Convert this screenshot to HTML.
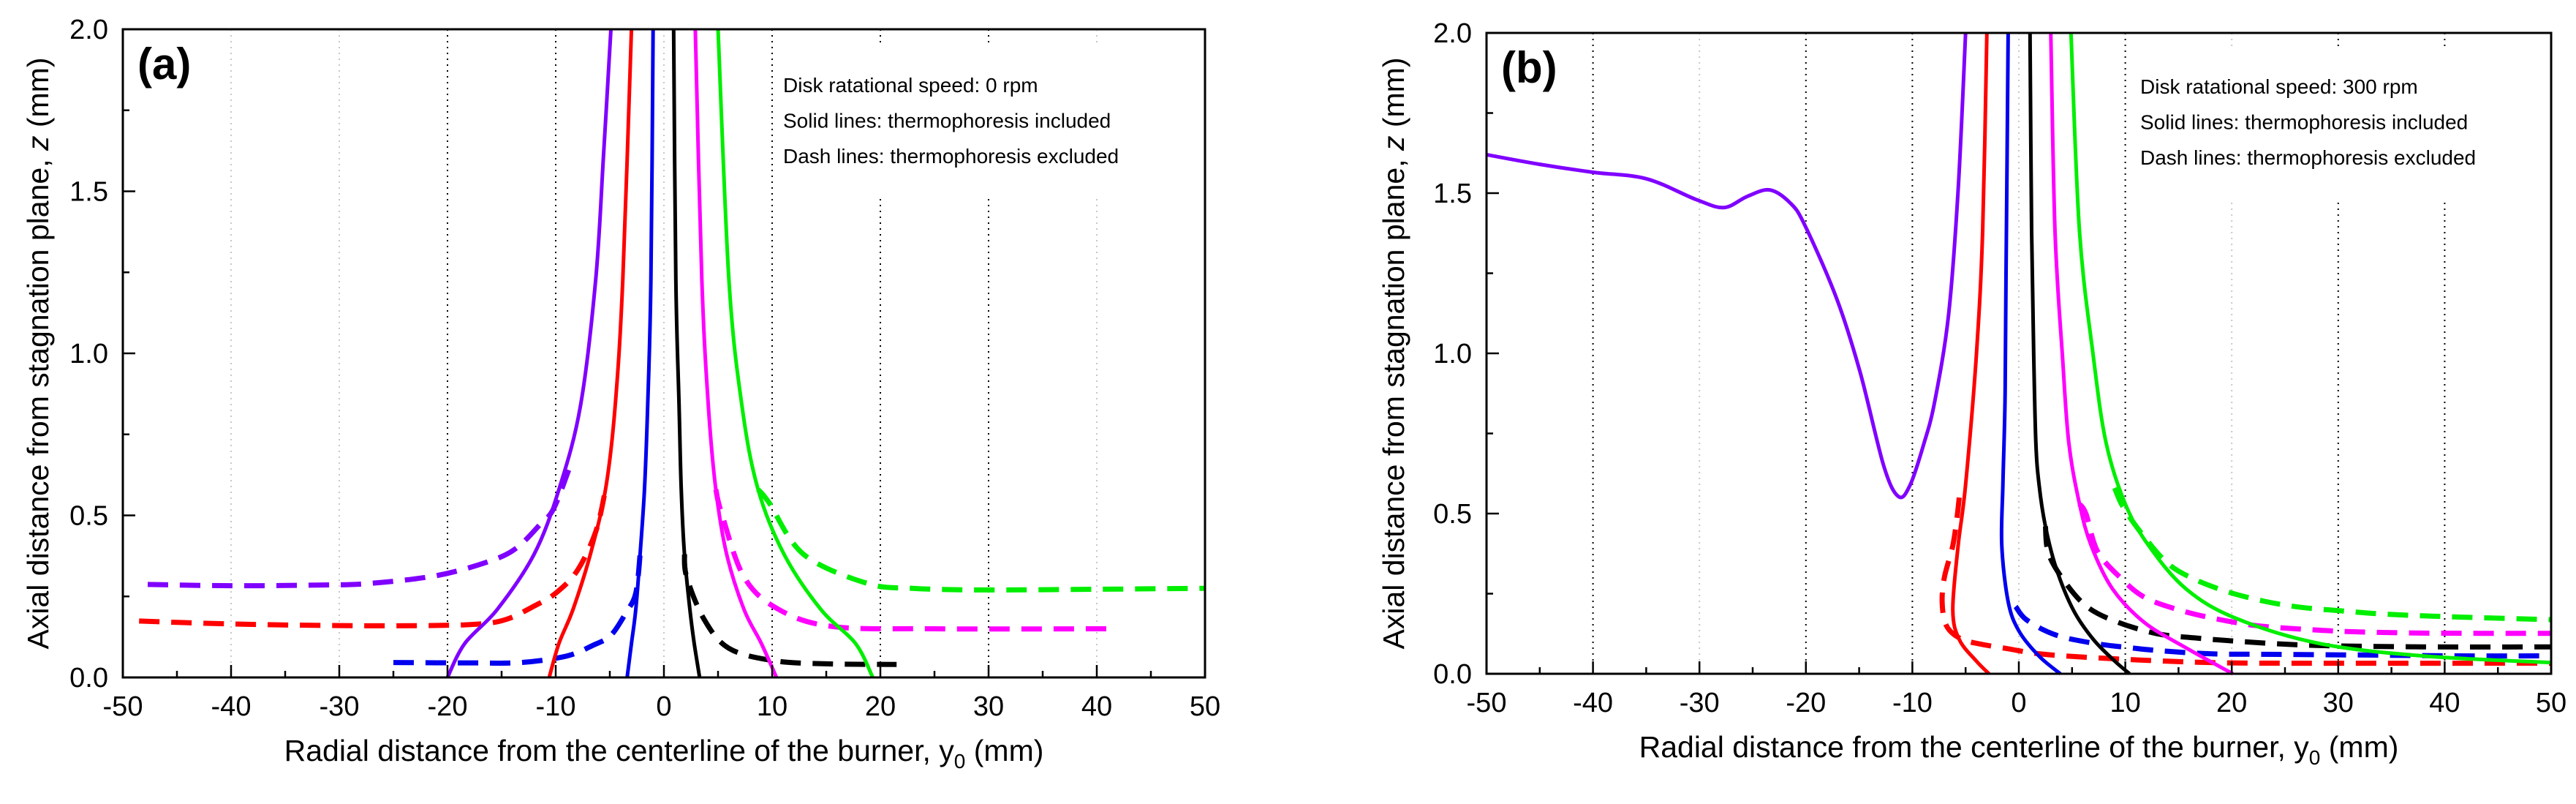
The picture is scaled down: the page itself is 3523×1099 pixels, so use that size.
<!DOCTYPE html>
<html><head><meta charset="utf-8">
<style>
html,body{margin:0;padding:0;background:#fff;}
svg{display:block;font-family:"Liberation Sans",Arial,sans-serif;}
</style></head>
<body>
<svg id="fig" width="3523" height="1099" viewBox="0 0 3523 1099" xmlns="http://www.w3.org/2000/svg">
<rect x="0" y="0" width="3523" height="1099" fill="#fff"/>
</svg>
<script>
// ---- data (x = radial distance mm, z = axial distance mm) ----
const xTicks = [-50,-40,-30,-20,-10,0,10,20,30,40,50];
const yTicks = [0.0,0.5,1.0,1.5,2.0];
const aGridDark = [-20,-10,10,20,30];
const bGridDark = [-40,-20,-10,10,30,40];
const seriesColors = {purple:'#8000ff',red:'#ff0000',blue:'#0000ee',black:'#000000',magenta:'#ff00ff',green:'#00ee00'};

const aPurpleSolid = [[-4.9,2],[-5.6,1.6],[-6.3,1.23],[-7.7,0.84],[-9.7,0.58],[-12,0.38],[-15.4,0.21],[-18.4,0.105],[-20,0]];
const aRedSolid = [[-3.0,2],[-3.8,1.23],[-4.5,0.84],[-5.4,0.58],[-6.8,0.38],[-8.4,0.21],[-9.7,0.105],[-10.6,0]];
const aBlueSolid = [[-1.0,2],[-1.2,1.23],[-1.5,0.84],[-1.8,0.58],[-2.2,0.38],[-2.6,0.21],[-3.0,0.105],[-3.4,0]];
const aBlackSolid = [[0.9,2],[1.1,1.23],[1.4,0.84],[1.6,0.58],[1.9,0.38],[2.4,0.21],[2.8,0.105],[3.3,0]];
const aMagentaSolid = [[2.9,2],[3.5,1.23],[4.1,0.84],[4.8,0.58],[5.8,0.38],[7.4,0.21],[9.0,0.105],[10.4,0]];
const aGreenSolid = [[5.0,2],[6.0,1.23],[7.2,0.84],[8.7,0.58],[11.1,0.38],[14.5,0.21],[17.7,0.105],[19.3,0]];
const aPurpleDash = [[-47.7,0.287],[-40,0.283],[-32,0.285],[-27.2,0.29],[-20.9,0.315],[-16,0.36],[-13.6,0.40],[-11.5,0.47],[-10.2,0.52],[-8.8,0.64]];
const aRedDash = [[-48.5,0.174],[-40,0.165],[-30,0.16],[-22,0.16],[-17,0.165],[-14.5,0.18],[-12,0.22],[-10,0.26],[-8,0.33],[-6.3,0.45],[-5.4,0.58]];
const aBlueDash = [[-25,0.046],[-18,0.045],[-13.2,0.046],[-9,0.066],[-6.5,0.1],[-4.9,0.13],[-3.5,0.2],[-2.6,0.26],[-2.2,0.38]];
const aBlackDash = [[1.9,0.38],[2.1,0.31],[3.7,0.18],[6.0,0.09],[10.1,0.052],[15,0.042],[21.5,0.04]];
const aMagentaDash = [[4.8,0.58],[5.3,0.51],[7.4,0.31],[10.6,0.21],[15.6,0.157],[25,0.15],[41,0.15]];
const aGreenDash = [[8.7,0.58],[9.7,0.54],[12.9,0.38],[18.8,0.29],[23,0.275],[29.3,0.27],[40,0.272],[49.9,0.275]];

const bPurpleSolid = [[-50,1.62],[-45,1.59],[-40,1.565],[-35,1.545],[-30.3,1.48],[-27.7,1.455],[-25.5,1.49],[-23.4,1.51],[-21.5,1.47],[-20.1,1.40],[-17.1,1.17],[-14.9,0.94],[-12.7,0.65],[-11.3,0.553],[-10.2,0.59],[-8.9,0.72],[-7.9,0.85],[-6.6,1.12],[-5.7,1.51],[-5.0,2.0]];
const bRedSolid = [[-3.0,2],[-3.4,1.38],[-4.0,0.99],[-5.0,0.59],[-5.7,0.40],[-6.2,0.20],[-5.6,0.107],[-4.0,0.04],[-2.8,0]];
const bBlueSolid = [[-1.0,2],[-1.2,1.25],[-1.3,0.85],[-1.5,0.59],[-1.6,0.40],[-1.0,0.225],[0.0,0.134],[1.9,0.055],[3.9,0]];
const bBlackSolid = [[1.05,2],[1.2,1.38],[1.4,0.99],[1.6,0.72],[1.9,0.59],[2.5,0.46],[3.5,0.33],[5.1,0.2],[7.0,0.107],[9.0,0.04],[10.4,0]];
const bMagentaSolid = [[3.0,2],[3.4,1.38],[4.1,0.99],[4.7,0.72],[5.7,0.53],[6.8,0.40],[8.8,0.265],[11.8,0.16],[15.7,0.081],[20.1,0]];
const bGreenSolid = [[4.9,2],[5.7,1.38],[7.0,0.99],[8.2,0.72],[10.0,0.53],[12.2,0.40],[15.7,0.265],[20.4,0.173],[28.3,0.094],[38.2,0.055],[50,0.035]];
const bRedDash = [[-5.6,0.55],[-5.8,0.49],[-6.2,0.40],[-7.0,0.30],[-7.2,0.22],[-6.8,0.15],[-5.5,0.11],[-3.5,0.092],[-1,0.078],[1.5,0.064],[4.6,0.055],[8.8,0.047],[12.6,0.041],[16.8,0.036],[23.8,0.033],[50,0.033]];
const bBlueDash = [[-0.3,0.21],[0.7,0.169],[3.3,0.123],[6.7,0.097],[10.5,0.081],[14,0.070],[18.2,0.062],[22.4,0.061],[30.8,0.059],[41.4,0.056],[50,0.056]];
const bBlackDash = [[2.5,0.46],[2.8,0.374],[4.4,0.283],[6.5,0.207],[9.3,0.161],[13.0,0.125],[16.5,0.112],[20.3,0.102],[27.3,0.089],[37.9,0.084],[50,0.084]];
const bMagentaDash = [[5.7,0.53],[6.3,0.50],[7.4,0.382],[9.6,0.298],[11.9,0.237],[15.4,0.196],[18.9,0.169],[22.4,0.150],[26.3,0.140],[30.8,0.132],[37.9,0.127],[50,0.126]];
const bGreenDash = [[9.0,0.58],[9.8,0.52],[11.6,0.435],[14.0,0.344],[16.5,0.295],[19.6,0.256],[23.1,0.226],[26.6,0.207],[30.5,0.196],[34.4,0.186],[41.4,0.177],[50,0.169]];

const aNotes = ['Disk ratational speed: 0 rpm','Solid lines: thermophoresis included','Dash lines: thermophoresis excluded'];
const bNotes = ['Disk ratational speed: 300 rpm','Solid lines: thermophoresis included','Dash lines: thermophoresis excluded'];

const NS='http://www.w3.org/2000/svg';
const svg=document.getElementById('fig');
function mk(tag,parent){const e=document.createElementNS(NS,tag);parent.appendChild(e);return e;}
function smooth(pts){
  let d='M'+pts[0][0].toFixed(1)+','+pts[0][1].toFixed(1);
  for(let i=0;i<pts.length-1;i++){
    const p0=pts[Math.max(i-1,0)],p1=pts[i],p2=pts[i+1],p3=pts[Math.min(i+2,pts.length-1)];
    const c1=[p1[0]+(p2[0]-p0[0])/6,p1[1]+(p2[1]-p0[1])/6];
    const c2=[p2[0]-(p3[0]-p1[0])/6,p2[1]-(p3[1]-p1[1])/6];
    d+=' C'+c1[0].toFixed(1)+','+c1[1].toFixed(1)+' '+c2[0].toFixed(1)+','+c2[1].toFixed(1)+' '+p2[0].toFixed(1)+','+p2[1].toFixed(1);
  }
  return d;
}

function panel(cfg){
  const g=mk('g',svg);
  
  
  const L=cfg.L,R=cfg.R,T=cfg.T,B=cfg.B;
  const sx=v=>L+(v+50)/100*(R-L);
  const sy=v=>B-v/2*(B-T);
  xTicks.forEach(t=>{
    if(t===-50||t===50) return;
    const dark=cfg.dark.indexOf(t)>=0;
    const ln=mk('line',g);
    
    
    ln.setAttribute('x1',sx(t));ln.setAttribute('x2',sx(t));
    ln.setAttribute('y1',T);ln.setAttribute('y2',B);
    ln.setAttribute('stroke',dark?'#000':'#c8c8c8');
    ln.setAttribute('stroke-width','2');
    ln.setAttribute('stroke-dasharray','2,6');
  });
  const nb=mk('rect',g);
  
  
  nb.setAttribute('x',cfg.noteX-8);nb.setAttribute('y',T+22);
  nb.setAttribute('width',520);nb.setAttribute('height',205);
  nb.setAttribute('fill','#fff');
  cfg.notes.forEach((s,i)=>{
    const t=mk('text',g);
    
    
    t.setAttribute('x',cfg.noteX);t.setAttribute('y',cfg.noteY+i*48.5);
    t.setAttribute('font-size','28');t.textContent=s;
  });
  cfg.series.forEach(s=>{
    const p=mk('path',g);
    
    
    p.setAttribute('d',smooth(s.data.map(q=>[sx(q[0]),sy(q[1])])));
    p.setAttribute('fill','none');
    p.setAttribute('stroke',seriesColors[s.c]);
    p.setAttribute('stroke-width',s.dash?'7':'5');
    if(s.dash) p.setAttribute('stroke-dasharray','28,16');
  });
  xTicks.forEach((t,i)=>{
    const ln=mk('line',g);
    
    
    ln.setAttribute('x1',sx(t));ln.setAttribute('x2',sx(t));
    ln.setAttribute('y1',B);ln.setAttribute('y2',B-17);
    ln.setAttribute('stroke','#000');ln.setAttribute('stroke-width','2.5');
    if(i<xTicks.length-1){
      const m=mk('line',g);
      
      
      m.setAttribute('x1',sx(t+5));m.setAttribute('x2',sx(t+5));
      m.setAttribute('y1',B);m.setAttribute('y2',B-9);
      m.setAttribute('stroke','#000');m.setAttribute('stroke-width','2.5');
    }
    const tx=mk('text',g);
    
    
    tx.setAttribute('x',sx(t));tx.setAttribute('y',B+52);
    tx.setAttribute('text-anchor','middle');tx.setAttribute('font-size','38');
    tx.textContent=String(t);
  });
  yTicks.forEach((t,i)=>{
    const ln=mk('line',g);
    
    
    ln.setAttribute('x1',L);ln.setAttribute('x2',L+17);
    ln.setAttribute('y1',sy(t));ln.setAttribute('y2',sy(t));
    ln.setAttribute('stroke','#000');ln.setAttribute('stroke-width','2.5');
    if(i<yTicks.length-1){
      const m=mk('line',g);
      
      
      m.setAttribute('x1',L);m.setAttribute('x2',L+9);
      m.setAttribute('y1',sy(t+0.25));m.setAttribute('y2',sy(t+0.25));
      m.setAttribute('stroke','#000');m.setAttribute('stroke-width','2.5');
    }
    const tx=mk('text',g);
    
    
    tx.setAttribute('x',L-20);tx.setAttribute('y',sy(t)+13);
    tx.setAttribute('text-anchor','end');tx.setAttribute('font-size','38');
    tx.textContent=t.toFixed(1);
  });
  const fr=mk('rect',g);
  
  
  fr.setAttribute('x',L);fr.setAttribute('y',T);
  fr.setAttribute('width',R-L);fr.setAttribute('height',B-T);
  fr.setAttribute('fill','none');fr.setAttribute('stroke','#000');fr.setAttribute('stroke-width','3');
  const pl=mk('text',g);
  
  
  pl.setAttribute('x',L+20);pl.setAttribute('y',T+68);
  pl.setAttribute('font-size','60');pl.setAttribute('font-weight','bold');
  pl.textContent=cfg.label;
  const xt=mk('text',g);
  
  
  xt.setAttribute('x',(L+R)/2);xt.setAttribute('y',B+114);
  xt.setAttribute('text-anchor','middle');xt.setAttribute('font-size','41');
  xt.innerHTML='Radial distance from the centerline of the burner, y<tspan font-size="28" dy="10">0</tspan><tspan dy="-10"> (mm)</tspan>';
  const yt=mk('text',g);
  
  
  const cx=cfg.yTitleX, cy=(T+B)/2;
  yt.setAttribute('x',cx);yt.setAttribute('y',cy);
  yt.setAttribute('transform','rotate(-90 '+cx+' '+cy+')');
  yt.setAttribute('text-anchor','middle');yt.setAttribute('font-size','41');
  yt.innerHTML='Axial distance from stagnation plane, <tspan font-style="italic">z</tspan> (mm)';
}

panel({name:'panel-a',label:'(a)',L:168,R:1648,T:40,B:926,dark:aGridDark,notes:aNotes,noteX:1071,noteY:126,yTitleX:66,
  series:[
   {name:'purple-dash-line',c:'purple',dash:true,data:aPurpleDash},
   {name:'red-dash-line',c:'red',dash:true,data:aRedDash},
   {name:'blue-dash-line',c:'blue',dash:true,data:aBlueDash},
   {name:'black-dash-line',c:'black',dash:true,data:aBlackDash},
   {name:'magenta-dash-line',c:'magenta',dash:true,data:aMagentaDash},
   {name:'green-dash-line',c:'green',dash:true,data:aGreenDash},
   {name:'purple-solid-line',c:'purple',data:aPurpleSolid},
   {name:'red-solid-line',c:'red',data:aRedSolid},
   {name:'blue-solid-line',c:'blue',data:aBlueSolid},
   {name:'black-solid-line',c:'black',data:aBlackSolid},
   {name:'magenta-solid-line',c:'magenta',data:aMagentaSolid},
   {name:'green-solid-line',c:'green',data:aGreenSolid}
  ]});
panel({name:'panel-b',label:'(b)',L:2033,R:3489,T:45,B:921,dark:bGridDark,notes:bNotes,noteX:2927,noteY:128,yTitleX:1920,
  series:[
   {name:'red-dash-line',c:'red',dash:true,data:bRedDash},
   {name:'blue-dash-line',c:'blue',dash:true,data:bBlueDash},
   {name:'black-dash-line',c:'black',dash:true,data:bBlackDash},
   {name:'magenta-dash-line',c:'magenta',dash:true,data:bMagentaDash},
   {name:'green-dash-line',c:'green',dash:true,data:bGreenDash},
   {name:'purple-solid-line',c:'purple',data:bPurpleSolid},
   {name:'red-solid-line',c:'red',data:bRedSolid},
   {name:'blue-solid-line',c:'blue',data:bBlueSolid},
   {name:'black-solid-line',c:'black',data:bBlackSolid},
   {name:'magenta-solid-line',c:'magenta',data:bMagentaSolid},
   {name:'green-solid-line',c:'green',data:bGreenSolid}
  ]});
</script>
</body></html>
